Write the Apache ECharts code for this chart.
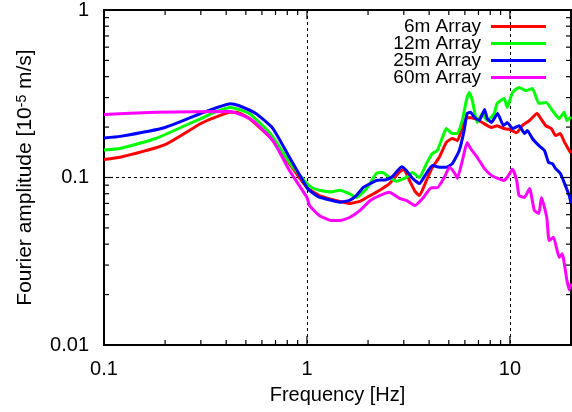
<!DOCTYPE html>
<html><head><meta charset="utf-8">
<script src="https://cdn.jsdelivr.net/npm/echarts@6/dist/echarts.min.js"></script>
<style>html,body{margin:0;padding:0;background:#fff}#c{width:572px;height:412px}</style>
</head><body><div id="c"></div>
<script>
const seriesNames = ['6m Array', '12m Array', '25m Array', '60m Array'];
const seriesColors = ['#ff0000', '#00ff00', '#0000ff', '#ff00ff'];

const freq6 = [0.1,0.12,0.2,0.3,0.35,0.42,0.45,0.52,0.66,0.82,1.0,1.15,1.32,1.45,1.62,1.82,2.05,2.28,2.55,2.86,3.0,3.2,3.4,3.58,3.88,4.15,4.49,4.86,5.2,5.51,5.83,6.15,6.7,7.3,8.1,8.66,9.3,9.93,10.8,11.5,12.5,13.6,14.1,15.0,16.0,16.8,17.7,18.6,19.6,20];
const amp6 = [0.128,0.132,0.157,0.21,0.228,0.245,0.245,0.225,0.173,0.121,0.087,0.078,0.074,0.072,0.070,0.072,0.078,0.084,0.092,0.108,0.112,0.096,0.083,0.078,0.096,0.115,0.132,0.162,0.171,0.166,0.199,0.228,0.225,0.213,0.199,0.204,0.196,0.194,0.185,0.204,0.219,0.241,0.228,0.204,0.196,0.178,0.183,0.162,0.145,0.14];

const freq12 = [0.1,0.12,0.18,0.3,0.35,0.42,0.52,0.66,0.82,1.0,1.05,1.15,1.32,1.45,1.62,1.75,1.97,2.2,2.36,2.55,2.76,3.09,3.31,3.58,3.88,4.15,4.39,4.65,4.86,5.2,5.51,5.83,6.1,6.31,6.53,6.9,7.31,7.73,8.37,8.66,9.37,9.7,10.3,11.1,12.0,12.9,13.9,15.1,16.2,17.5,18.5,19.1,20];
const amp12 = [0.146,0.149,0.171,0.225,0.245,0.262,0.241,0.183,0.123,0.092,0.0875,0.084,0.082,0.084,0.080,0.076,0.086,0.106,0.107,0.100,0.095,0.100,0.107,0.100,0.121,0.139,0.145,0.173,0.196,0.183,0.183,0.219,0.288,0.322,0.288,0.213,0.241,0.219,0.241,0.277,0.296,0.262,0.322,0.345,0.33,0.34,0.277,0.28,0.251,0.225,0.245,0.219,0.23];

const freq25 = [0.1,0.12,0.2,0.3,0.42,0.46,0.56,0.68,0.82,1.0,1.03,1.15,1.32,1.45,1.62,1.75,1.9,2.05,2.2,2.45,2.63,2.93,3.09,3.31,3.58,3.88,4.15,4.49,4.86,5.2,5.63,5.95,6.15,6.4,6.7,7.07,7.5,7.73,8.1,8.7,9.3,9.7,10.3,11.1,11.8,12.2,12.9,13.9,14.8,15.5,16.2,16.8,17.7,18.6,19.6,20];
const amp25 = [0.172,0.176,0.199,0.241,0.276,0.269,0.241,0.196,0.132,0.087,0.0837,0.0763,0.073,0.0712,0.073,0.078,0.0875,0.092,0.096,0.097,0.101,0.116,0.110,0.099,0.092,0.106,0.118,0.115,0.115,0.121,0.145,0.191,0.241,0.245,0.228,0.219,0.255,0.225,0.213,0.241,0.204,0.213,0.196,0.204,0.183,0.191,0.171,0.155,0.145,0.123,0.121,0.113,0.106,0.092,0.078,0.07];

const freq60 = [0.1,0.18,0.42,0.54,0.68,0.82,1.0,1.03,1.15,1.32,1.45,1.62,1.82,2.05,2.28,2.55,2.86,3.09,3.4,3.75,4.1,4.39,4.75,5.04,5.35,5.51,5.83,6.15,6.4,6.9,7.5,8.1,8.66,9.3,9.7,10.3,10.8,11.1,11.8,12.5,13.2,13.9,14.3,15.2,15.6,16.4,17.5,18.1,19.1,19.6,20];
const amp60 = [0.238,0.245,0.248,0.219,0.166,0.11,0.076,0.068,0.0593,0.0553,0.0553,0.0577,0.0635,0.0729,0.078,0.0817,0.075,0.073,0.068,0.076,0.087,0.087,0.1,0.115,0.106,0.099,0.126,0.162,0.149,0.132,0.113,0.103,0.099,0.096,0.1,0.112,0.096,0.078,0.076,0.086,0.0635,0.061,0.076,0.0577,0.042,0.044,0.0333,0.035,0.0243,0.0213,0.0233];

const xTickLabels = [0.1, 1, 10];
const yTickLabels = [0.01, 0.1, 1];
const xMinorTicks = [0.2,0.3,0.4,0.5,0.6,0.7,0.8,0.9,2,3,4,5,6,7,8,9];
const yMinorTicks = [0.02,0.03,0.04,0.05,0.06,0.07,0.08,0.09,0.2,0.3,0.4,0.5,0.6,0.7,0.8,0.9];
const xMin = 0.1, xMax = 20, yMin = 0.01, yMax = 1;

const zip = (a, b) => a.map((v, i) => [v, b[i]]);
const allData = [zip(freq6, amp6), zip(freq12, amp12), zip(freq25, amp25), zip(freq60, amp60)];

// tick marks: [x, y, orientation(0=x tick,1=y tick), major(1)/minor(0)]
const tickData = [];
xMinorTicks.forEach(v => tickData.push([v, yMin, 0, 0]));
xTickLabels.forEach(v => tickData.push([v, yMin, 0, 1]));
yMinorTicks.forEach(v => tickData.push([xMin, v, 1, 0]));
yTickLabels.forEach(v => tickData.push([xMin, v, 1, 1]));

const FONT = '"Liberation Sans", Arial, sans-serif';
const fmt = v => {
  const l = Math.log10(v);
  return Math.abs(l - Math.round(l)) < 1e-6 ? String(+v.toPrecision(3)) : '';
};

const chart = echarts.init(document.getElementById('c'), null, {renderer: 'canvas'});
chart.setOption({
  animation: false,
  backgroundColor: '#fff',
  grid: {left: 104, right: 1, top: 10, bottom: 67, show: true, borderColor: '#000', borderWidth: 2, backgroundColor: 'transparent'},
  legend: {
    orient: 'vertical', right: 26, top: 17, align: 'right', itemGap: -2, padding: 0,
    itemWidth: 55, itemHeight: 3, icon: 'rect',
    textStyle: {fontFamily: FONT, fontSize: 19, color: '#000', padding: [0, 5, 0, 0]},
    data: seriesNames
  },
  xAxis: {
    type: 'log', logBase: 10, min: xMin, max: xMax,
    name: 'Frequency [Hz]', nameLocation: 'middle', nameGap: 40,
    nameTextStyle: {fontFamily: FONT, fontSize: 20, color: '#000'},
    axisLine: {show: false}, axisTick: {show: false},
    axisLabel: {formatter: fmt, margin: 14, fontFamily: FONT, fontSize: 20, color: '#000', showMaxLabel: false},
    splitLine: {show: true, lineStyle: {color: '#000', width: 1, type: [3, 3]}},
    minorTick: {show: false}
  },
  yAxis: {
    type: 'log', logBase: 10, min: yMin, max: yMax,
    name: '{a|Fourier amplitude [10}{s|-5}{a| m/s]}', nameLocation: 'middle', nameGap: 68,
    nameTextStyle: {fontFamily: FONT, fontSize: 21, color: '#000',
      rich: {a: {fontFamily: FONT, fontSize: 21, color: '#000'}, s: {fontFamily: FONT, fontSize: 14, color: '#000', verticalAlign: 'top'}}},
    axisLine: {show: false}, axisTick: {show: false},
    axisLabel: {formatter: fmt, margin: 15, fontFamily: FONT, fontSize: 20, color: '#000'},
    splitLine: {show: true, lineStyle: {color: '#000', width: 1, type: [3, 3]}}
  },
  series: seriesNames.map((n, i) => ({
    name: n, type: 'line', data: allData[i], showSymbol: false, symbol: 'none', smooth: 0.15,
    lineStyle: {color: seriesColors[i], width: 3}, itemStyle: {color: seriesColors[i]}, z: 3 + i, clip: true
  })).concat([{
    type: 'custom', name: 'ticks', silent: true, z: 10, clip: false,
    data: tickData,
    renderItem: (params, api) => {
      const orient = api.value(2), major = api.value(3);
      const len = major ? 9 : 5;
      const st = {stroke: '#000', lineWidth: 1.2};
      if (orient === 0) {
        const v = api.value(0);
        const b = api.coord([v, yMin]), t = api.coord([v, yMax]);
        return {type: 'group', children: [
          {type: 'line', shape: {x1: b[0], y1: b[1], x2: b[0], y2: b[1] - len}, style: st},
          {type: 'line', shape: {x1: t[0], y1: t[1], x2: t[0], y2: t[1] + len}, style: st}
        ]};
      } else {
        const v = api.value(1);
        const l = api.coord([xMin, v]), r = api.coord([xMax, v]);
        return {type: 'group', children: [
          {type: 'line', shape: {x1: l[0], y1: l[1], x2: l[0] + len, y2: l[1]}, style: st},
          {type: 'line', shape: {x1: r[0], y1: r[1], x2: r[0] - len, y2: r[1]}, style: st}
        ]};
      }
    }
  }])
});
</script>
</body></html>
